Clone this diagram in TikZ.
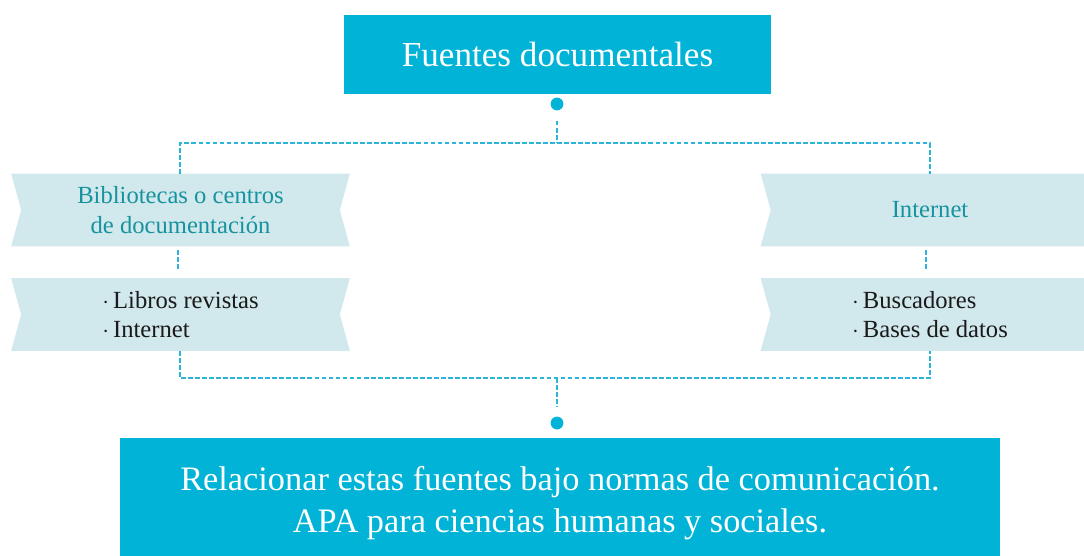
\documentclass[tikz,border=0pt]{standalone}
\usepackage{fontspec}
\setmainfont{Liberation Serif}
\usetikzlibrary{backgrounds}
\definecolor{cian}{HTML}{00B3D7}
\definecolor{celeste}{HTML}{D1E8EC}
\definecolor{verdeazul}{HTML}{17939F}
\definecolor{raya}{HTML}{2CB5D8}
\definecolor{tinta}{HTML}{1A1A1A}
\tikzset{
  caja/.style={fill=cian,text=white,inner sep=0pt,align=center},
  cinta/.style={inner sep=0pt,minimum width=8.45cm,minimum height=1.8cm,align=left,font=\fontsize{17.5}{21}\selectfont},
  punto/.style={circle,fill=cian,inner sep=0pt,minimum size=0.32cm},
  enlace/.style={draw=raya,line width=1.8pt,dash pattern=on 3.4pt off 1.6pt},
}
\begin{document}
\begin{tikzpicture}[x=0.025cm,y=-0.025cm]
	\useasboundingbox (0,0) rectangle (1084,555);
	% cajas principales
	\node[caja,minimum width=10.675cm,minimum height=1.975cm,font=\fontsize{25}{30}\selectfont] (fuentes) at (557.5,54.5) {Fuentes documentales};
	\node[caja,minimum width=22cm,minimum height=3.275cm,font=\fontsize{24.4}{30}\selectfont] (normas) at (560,503.5)
		{Relacionar estas fuentes bajo normas de comunicación.\\APA para ciencias humanas y sociales.};
	
	% cintas
	\node[cinta,text=verdeazul,align=center] (biblio) at (180.5,210) {Bibliotecas o centros\\de documentación};
	\node[cinta,text=tinta] (libros) at (180.5,314.5) {$\cdot$\,Libros revistas\\$\cdot$\,Internet};
	\node[cinta,text=verdeazul] (inter) at (930,210) {Internet};
	\node[cinta,text=tinta] (busca) at (930,314.5) {$\cdot$\,Buscadores\\$\cdot$\,Bases de datos};
	
	\begin{scope}[on background layer]
		\foreach \c in {biblio,libros,inter,busca}
		\fill[celeste] (\c.north west)--(\c.north east)--([xshift=-0.25cm]\c.east)--(\c.south east)
			--(\c.south west)--([xshift=0.25cm]\c.west)--cycle;
	\end{scope}
	
	% puntos y uniones
	\node[punto] (p1) at (557,104) {};
	\node[punto] (p2) at (557,423) {};
	\path (557,143) coordinate (a)
		(180,143) coordinate (aI)
		(930,143) coordinate (aD)
		(557,378) coordinate (b)
		(180,378) coordinate (bI)
		(930,378) coordinate (bD);
	
	\draw[enlace] ([yshift=-0.25cm]p1.south)--(a);
	\draw[enlace] (biblio.north-|aI)--(aI)--(aD)--(inter.north-|aD);
	\draw[enlace] ([shift={(-2.5,4)}]biblio.south)--([shift={(-2.5,-7)}]libros.north);
	\draw[enlace] ([shift={(-4,4)}]inter.south)--([shift={(-4,-7)}]busca.north);
	\draw[enlace] (libros.south-|bI)--(bI)--(bD)--(busca.south-|bD);
	\draw[enlace] (b)--([yshift=0.25cm]p2.north);
\end{tikzpicture}
\end{document}
